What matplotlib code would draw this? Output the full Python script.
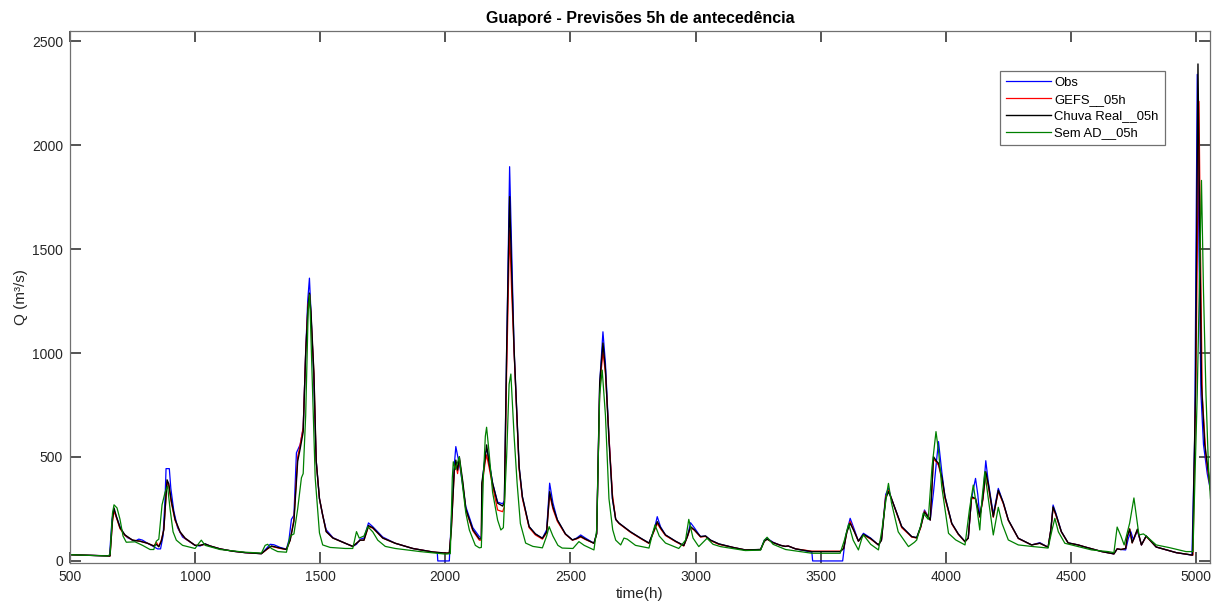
"""Guaporé - 5h lead-time forecasts vs observed discharge."""

import matplotlib
matplotlib.use("Agg")
import matplotlib.pyplot as plt

plt.rcParams["font.family"] = ["Liberation Sans", "DejaVu Sans"]

# ---------------------------------------------------------------------------
# Data: time (h) and discharge Q (m3/s)
# ---------------------------------------------------------------------------
obs_t = [500, 650, 658, 668, 675, 685, 700, 715, 730, 760, 775, 790, 810, 830,
         850, 862, 872, 880, 884, 897, 903, 915, 930, 950, 975, 1000, 1020,
         1040, 1060, 1100, 1150, 1200, 1265, 1285, 1300, 1315, 1340, 1365,
         1375, 1385, 1395, 1405, 1420, 1432, 1442, 1450, 1457, 1463, 1473,
         1484, 1497, 1510, 1524, 1551, 1600, 1630, 1645, 1660, 1675, 1693,
         1710, 1750, 1800, 1870, 1950, 1968, 1970, 2016, 2022, 2036, 2042,
         2050, 2060, 2082, 2110, 2136, 2144, 2148, 2160, 2168, 2189, 2209,
         2229, 2236, 2245, 2257, 2265, 2275, 2295, 2308, 2335, 2360, 2388,
         2405, 2417, 2430, 2448, 2480, 2508, 2525, 2541, 2560, 2594, 2605,
         2617, 2630, 2640, 2654, 2668, 2681, 2694, 2740, 2780, 2814, 2835,
         2847, 2860, 2880, 2920, 2953, 2968, 2980, 2995, 3020, 3040, 3060,
         3093, 3150, 3199, 3260, 3275, 3286, 3310, 3340, 3359, 3370, 3400,
         3465, 3468, 3588, 3600, 3618, 3635, 3651, 3671, 3700, 3731, 3743,
         3760, 3771, 3783, 3824, 3864, 3884, 3900, 3915, 3938, 3951, 3963,
         3971, 3985, 3997, 4024, 4050, 4077, 4090, 4103, 4119, 4128, 4136,
         4148, 4160, 4170, 4190, 4210, 4230, 4250, 4290, 4343, 4376, 4409,
         4420, 4429, 4440, 4462, 4489, 4529, 4557, 4624, 4672, 4685, 4700,
         4719, 4730, 4740, 4750, 4766, 4782, 4801, 4841, 4921, 4984, 4995,
         5005, 5012, 5020, 5030, 5045, 5058]
obs_q = [30, 24, 24, 200, 250, 215, 165, 130, 112, 95, 105, 100, 85, 72,
         58, 58, 120, 300, 444, 444, 350, 240, 160, 115, 95, 75, 72,
         82, 72, 58, 47, 40, 35, 60, 80, 78, 65, 57,
         100, 200, 220, 520, 560, 640, 1000, 1250, 1360, 1200, 920,
         485, 300, 220, 150, 112, 85, 70, 80, 105, 110, 183,
         165, 115, 85, 60, 43, 40, 0, 0, 150, 460, 550,
         500, 440, 261, 160, 117, 110, 380, 520, 534, 374, 283,
         275, 290, 1000, 1896, 1500, 1014, 453, 309, 165, 130, 109,
         150, 374, 280, 197, 130, 101, 110, 125, 110, 85, 135,
         855, 1102, 950, 600, 300, 200, 182, 140, 110, 86, 150,
         213, 165, 125, 95, 74, 120, 184, 160, 117, 120, 100,
         82, 65, 53, 55, 100, 109, 90, 75, 70, 72, 58,
         42, 0, 0, 120, 205, 150, 95, 133, 110, 77, 100,
         320, 349, 300, 165, 117, 112, 165, 245, 197, 330, 480,
         574, 420, 309, 181, 130, 93, 110, 300, 397, 320, 213,
         300, 482, 380, 225, 349, 280, 197, 109, 77, 88, 66,
         150, 269, 230, 141, 87, 77, 67, 45, 34, 58, 55,
         53, 110, 140, 100, 145, 77, 120, 67, 40, 28, 600,
         2340, 1500, 800, 560, 420, 340]

real_t = [500, 650, 660, 670, 676, 685, 700, 720, 750, 780, 810, 835, 845,
          855, 865, 875, 888, 895, 905, 920, 940, 960, 1000, 1020, 1040, 1060,
          1100, 1150, 1200, 1265, 1290, 1305, 1340, 1365, 1380, 1395, 1410,
          1420, 1432, 1442, 1451, 1457, 1463, 1475, 1484, 1497, 1510, 1524,
          1551, 1600, 1630, 1645, 1660, 1675, 1693, 1710, 1750, 1800, 1870,
          1950, 2000, 2016, 2024, 2036, 2042, 2049, 2056, 2070, 2082, 2110,
          2136, 2144, 2146, 2160, 2165, 2175, 2189, 2209, 2229, 2236, 2245,
          2257, 2265, 2275, 2295, 2308, 2335, 2360, 2388, 2405, 2417, 2430,
          2448, 2480, 2508, 2525, 2541, 2560, 2594, 2605, 2617, 2630, 2640,
          2654, 2668, 2681, 2694, 2740, 2780, 2814, 2835, 2847, 2860, 2880,
          2920, 2953, 2968, 2980, 2995, 3020, 3040, 3060, 3093, 3150, 3199,
          3260, 3275, 3286, 3310, 3340, 3359, 3370, 3400, 3465, 3578, 3592,
          3605, 3618, 3635, 3651, 3671, 3700, 3731, 3743, 3760, 3771, 3783,
          3824, 3864, 3884, 3900, 3915, 3938, 3951, 3963, 3971, 3985, 3997,
          4024, 4050, 4077, 4090, 4103, 4119, 4136, 4148, 4160, 4170, 4190,
          4210, 4230, 4250, 4290, 4343, 4376, 4409, 4420, 4429, 4440, 4462,
          4489, 4529, 4557, 4624, 4672, 4685, 4700, 4719, 4725, 4735, 4745,
          4766, 4782, 4801, 4841, 4921, 4986, 4998, 5008, 5014, 5022, 5035,
          5058]
real_q = [30, 24, 24, 200, 255, 215, 160, 125, 100, 95, 85, 72, 80,
          68, 95, 150, 390, 370, 290, 200, 140, 110, 75, 75, 82, 72,
          58, 47, 40, 35, 60, 72, 62, 55, 100, 190, 480,
          540, 620, 1000, 1216, 1288, 1200, 900, 480, 300, 220, 141,
          110, 85, 70, 85, 100, 100, 170, 160, 110, 85, 60,
          43, 38, 38, 150, 440, 485, 437, 501, 380, 250, 150,
          106, 106, 374, 500, 558, 470, 374, 278, 264, 280, 1000,
          1752, 1400, 1014, 453, 309, 165, 130, 109, 140, 333, 260,
          197, 130, 101, 108, 118, 105, 85, 130, 855, 1048, 920,
          580, 300, 200, 182, 140, 110, 86, 150, 189, 160, 125,
          95, 74, 120, 165, 150, 117, 120, 100, 82, 65, 53,
          55, 95, 105, 88, 75, 70, 72, 58, 45, 45, 60,
          140, 181, 140, 95, 128, 108, 77, 100, 300, 333, 300,
          165, 117, 112, 165, 235, 197, 501, 480, 470, 400, 309,
          181, 130, 93, 110, 309, 300, 213, 300, 429, 370, 213,
          340, 280, 197, 109, 77, 85, 66, 150, 260, 225, 141,
          87, 77, 67, 45, 34, 58, 55, 60, 115, 153, 87,
          153, 77, 120, 67, 40, 28, 800, 2390, 1700, 850, 560,
          350]

gefs_t = [500, 650, 660, 670, 676, 685, 700, 720, 750, 780, 810, 835, 845,
          855, 865, 875, 888, 895, 905, 920, 940, 960, 1000, 1020, 1040, 1060,
          1100, 1150, 1200, 1265, 1290, 1305, 1340, 1365, 1380, 1395, 1410,
          1420, 1432, 1442, 1451, 1458, 1463, 1475, 1484, 1497, 1510, 1524,
          1551, 1600, 1630, 1645, 1660, 1675, 1693, 1710, 1750, 1800, 1870,
          1950, 2000, 2016, 2024, 2036, 2042, 2049, 2056, 2070, 2082, 2110,
          2136, 2144, 2146, 2160, 2165, 2175, 2189, 2209, 2229, 2236, 2245,
          2257, 2265, 2275, 2295, 2308, 2335, 2360, 2388, 2405, 2417, 2430,
          2448, 2480, 2508, 2525, 2541, 2560, 2594, 2605, 2617, 2630, 2640,
          2654, 2668, 2681, 2694, 2740, 2780, 2814, 2835, 2847, 2860, 2880,
          2920, 2953, 2968, 2980, 2995, 3020, 3040, 3060, 3093, 3150, 3199,
          3260, 3275, 3286, 3310, 3340, 3359, 3370, 3400, 3465, 3578, 3592,
          3605, 3618, 3635, 3651, 3671, 3700, 3731, 3743, 3760, 3771, 3783,
          3824, 3864, 3884, 3900, 3915, 3938, 3951, 3963, 3971, 3985, 3997,
          4024, 4050, 4077, 4090, 4103, 4119, 4136, 4148, 4160, 4170, 4190,
          4210, 4230, 4250, 4290, 4343, 4376, 4409, 4420, 4429, 4440, 4462,
          4489, 4529, 4557, 4624, 4672, 4685, 4700, 4719, 4725, 4735, 4745,
          4766, 4782, 4801, 4841, 4921, 4988, 5000, 5012, 5018, 5025, 5040,
          5058]
gefs_q = [30, 24, 24, 190, 240, 210, 155, 122, 100, 95, 85, 72, 90,
          70, 100, 150, 380, 360, 280, 195, 138, 108, 75, 75, 80, 72,
          58, 47, 40, 35, 58, 70, 60, 55, 100, 200, 500,
          560, 640, 1000, 1230, 1280, 1180, 900, 480, 300, 220, 141,
          110, 85, 70, 85, 100, 100, 165, 158, 110, 85, 60,
          43, 38, 38, 150, 430, 470, 420, 490, 370, 245, 145,
          100, 100, 360, 480, 510, 450, 360, 245, 237, 260, 900,
          1591, 1300, 1000, 440, 300, 160, 125, 105, 135, 320, 250,
          190, 128, 100, 106, 115, 103, 85, 130, 830, 1010, 900,
          600, 320, 200, 180, 138, 108, 84, 145, 180, 155, 122,
          93, 72, 118, 160, 148, 115, 118, 98, 80, 65, 53,
          55, 95, 105, 88, 75, 70, 72, 58, 47, 47, 60,
          140, 190, 140, 95, 125, 105, 77, 100, 310, 340, 300,
          160, 115, 110, 160, 240, 197, 490, 475, 460, 390, 300,
          178, 128, 92, 110, 300, 300, 210, 290, 420, 360, 210,
          335, 275, 195, 108, 77, 85, 66, 150, 255, 220, 140,
          86, 77, 67, 45, 34, 58, 55, 60, 110, 155, 87,
          150, 77, 118, 67, 40, 28, 900, 2210, 1500, 800, 500,
          340]

semad_t = [500, 650, 660, 670, 676, 688, 700, 712, 725, 760, 790, 820, 835,
           845, 855, 868, 880, 890, 900, 912, 925, 950, 1000, 1015, 1025,
           1040, 1100, 1200, 1265, 1280, 1290, 1305, 1330, 1365, 1380, 1395,
           1410, 1425, 1432, 1442, 1452, 1458, 1465, 1480, 1497, 1510, 1540,
           1600, 1630, 1645, 1656, 1675, 1690, 1710, 1730, 1760, 1800, 1900,
           2000, 2020, 2028, 2032, 2040, 2056, 2070, 2082, 2096, 2120, 2136,
           2144, 2152, 2160, 2165, 2175, 2189, 2209, 2222, 2232, 2245, 2255,
           2262, 2275, 2287, 2300, 2321, 2350, 2388, 2405, 2415, 2430, 2450,
           2467, 2510, 2534, 2555, 2594, 2605, 2617, 2627, 2640, 2654, 2669,
           2681, 2701, 2714, 2727, 2760, 2814, 2830, 2838, 2855, 2880, 2933,
           2960, 2973, 2990, 3013, 3030, 3046, 3070, 3100, 3199, 3260, 3275,
           3286, 3310, 3360, 3465, 3578, 3595, 3612, 3630, 3651, 3665, 3671,
           3700, 3731, 3745, 3765, 3771, 3783, 3810, 3851, 3875, 3884, 3900,
           3910, 3930, 3945, 3961, 3972, 3984, 4011, 4040, 4077, 4095, 4110,
           4125, 4136, 4145, 4156, 4170, 4190, 4210, 4225, 4250, 4290, 4350,
           4409, 4425, 4436, 4450, 4476, 4583, 4649, 4672, 4685, 4700, 4713,
           4735, 4752, 4772, 4790, 4801, 4841, 4894, 4960, 4988, 5005, 5022,
           5030, 5040, 5050, 5058]
semad_q = [30, 24, 30, 230, 270, 255, 200, 120, 90, 92, 75, 55, 55,
           95, 105, 270, 330, 360, 250, 140, 100, 75, 60, 85, 100,
           75, 55, 42, 38, 75, 80, 60, 45, 42, 120, 130,
           250, 400, 420, 700, 1200, 1280, 1000, 400, 135, 77, 65,
           60, 60, 141, 110, 120, 165, 140, 100, 70, 60, 45,
           33, 35, 400, 477, 440, 500, 350, 230, 149, 75, 63,
           65, 400, 600, 643, 520, 330, 197, 149, 160, 500, 850,
           899, 600, 374, 180, 86, 70, 63, 120, 165, 120, 75,
           62, 60, 93, 75, 53, 150, 800, 918, 700, 300, 150,
           100, 77, 110, 105, 75, 62, 140, 173, 120, 86, 60,
           100, 200, 110, 69, 90, 109, 80, 69, 50, 52, 100,
           114, 80, 55, 37, 37, 100, 178, 100, 53, 110, 125,
           80, 53, 150, 330, 373, 280, 140, 69, 90, 101, 170,
           230, 200, 450, 622, 520, 357, 133, 101, 77, 250, 365,
           250, 149, 300, 429, 300, 125, 258, 180, 101, 77, 69,
           62, 150, 205, 140, 85, 53, 45, 40, 163, 120, 77,
           182, 303, 125, 130, 120, 77, 64, 45, 45, 800, 1830,
           1300, 800, 450, 300]

series_labels = ["Obs", "GEFS__05h", "Chuva Real__05h", "Sem AD__05h"]
series_colors = ["#0000ff", "#ff0000", "#000000", "#008000"]

x_ticks = [500, 1000, 1500, 2000, 2500, 3000, 3500, 4000, 4500, 5000]
y_ticks = [0, 500, 1000, 1500, 2000, 2500]

# ---------------------------------------------------------------------------
# Figure
# ---------------------------------------------------------------------------
fig = plt.figure(figsize=(12.19, 6.10), dpi=100)
ax = fig.add_axes([0.0574, 0.077, 0.935, 0.872])

series = [(obs_t, obs_q), (gefs_t, gefs_q), (real_t, real_q), (semad_t, semad_q)]
widths = [0.9, 0.9, 1.0, 0.9]
for (t, q), label, colour, lw in zip(series, series_labels, series_colors, widths):
    ax.plot(t, q, color=colour, linewidth=lw, label=label)

ax.set_xlim(500, 5055)
ax.set_ylim(-10, 2548)
ax.set_xticks(x_ticks)
ax.set_yticks(y_ticks)

text_colour = "#262626"
ax.tick_params(direction="in", length=8, width=1.1, colors=text_colour,
               labelsize=10, top=True, right=True, pad=5)
for spine in ax.spines.values():
    spine.set_color("#707070")
    spine.set_linewidth(0.9)

ax.set_xlabel("time(h)", fontsize=11, color=text_colour, labelpad=2)
ax.set_ylabel("Q (m³/s)", fontsize=11, color=text_colour, labelpad=3)
ax.set_title("Guaporé - Previsões 5h de antecedência", fontsize=11.5,
             fontweight="bold", color="#000000", pad=6)

leg = ax.legend(loc="upper right", bbox_to_anchor=(0.9605, 0.925),
                fontsize=9.4, fancybox=False, framealpha=1,
                edgecolor="#707070", handlelength=3.4, labelspacing=0.35,
                borderaxespad=0, handletextpad=0.3, borderpad=0.45)
leg.get_frame().set_linewidth(0.9)

fig.savefig("out.png", dpi=100)
